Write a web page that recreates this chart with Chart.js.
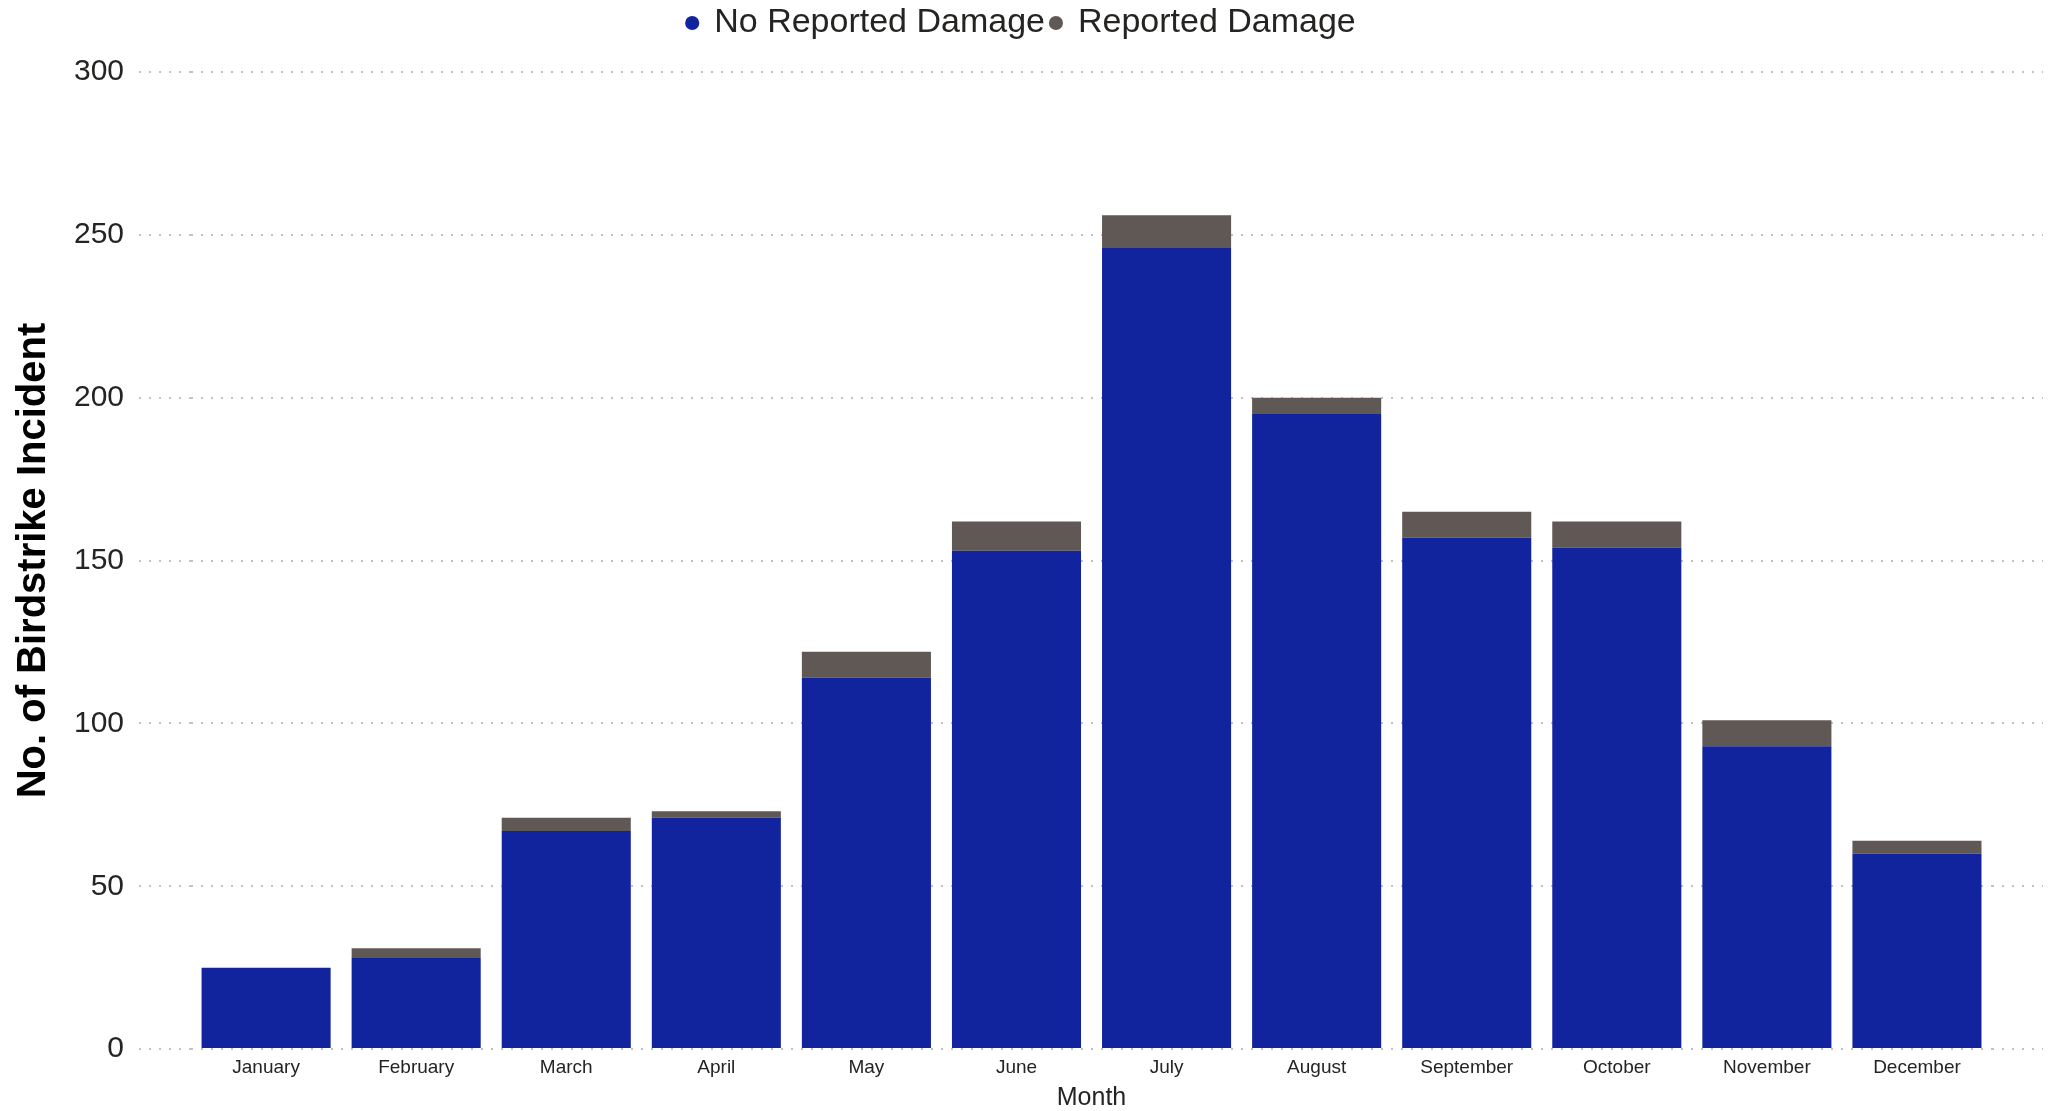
<!DOCTYPE html>
<html>
<head>
<meta charset="utf-8">
<script src="https://cdn.jsdelivr.net/npm/chart.js@4"></script>
<style>
    html, body { margin: 0; padding: 0; background: #ffffff; }
    #wrap { width: 2048px; height: 1111px; }
</style>
</head>
<body>
<div id="wrap"><canvas id="barChart"></canvas></div>
<script>
// Mēneši un incidentu skaits
const months = ['January', 'February', 'March', 'April', 'May', 'June', 'July', 'August', 'September', 'October', 'November', 'December'];
const noDamage = [25, 28, 67, 71, 114, 153, 246, 195, 157, 154, 93, 60];
const damage = [0, 3, 4, 2, 8, 9, 10, 5, 8, 8, 8, 4];
const yTicks = [0, 50, 100, 150, 200, 250, 300];

const gridDots = {
    color: '#c4c2c0',
    lineWidth: 2,
    tickColor: '#c4c2c0',
    tickWidth: 2,
    tickBorderDash: [2, 8]
};

// Papildu atstarpe zem leģendas
const legendGap = {
    id: 'legendGap',
    beforeInit(chart) {
        const fit = chart.legend.fit;
        chart.legend.fit = function () {
            fit.bind(chart.legend)();
            this.height += 22;
        };
    }
};

const ctx = document.getElementById('barChart').getContext('2d');
new Chart(ctx, {
    type: 'bar',
    data: {
        labels: months,
        datasets: [
            {
                label: 'No Reported Damage',
                data: noDamage,
                backgroundColor: '#12239E',
                borderWidth: 0
            },
            {
                label: 'Reported Damage',
                data: damage,
                backgroundColor: '#605855',
                borderWidth: 0
            }
        ]
    },
    plugins: [legendGap],
    options: {
        responsive: true,
        maintainAspectRatio: false,
        animation: false,
        layout: {
            padding: { left: 0, right: 5, top: 0, bottom: 0 }
        },
        datasets: {
            bar: { barPercentage: 0.86, categoryPercentage: 1.0 }
        },
        plugins: {
            legend: {
                position: 'top',
                labels: {
                    usePointStyle: true,
                    pointStyle: 'circle',
                    boxWidth: 10,
                    boxHeight: 10,
                    padding: 6,
                    color: '#252423',
                    font: { family: 'Liberation Sans, Arial, sans-serif', size: 34 }
                }
            },
            tooltip: { enabled: false }
        },
        scales: {
            x: {
                stacked: true,
                grid: { display: false, drawTicks: false },
                border: { display: false },
                ticks: {
                    padding: 8,
                    color: '#252423',
                    font: { family: 'Liberation Sans, Arial, sans-serif', size: 19, lineHeight: 1.1 }
                },
                title: {
                    display: true,
                    text: 'Month',
                    color: '#252423',
                    padding: { top: 0, bottom: 0 },
                    font: { family: 'Liberation Sans, Arial, sans-serif', size: 25, lineHeight: 1.0 }
                }
            },
            y: {
                stacked: true,
                min: 0,
                max: 300,
                afterBuildTicks: (scale) => {
                    scale.ticks = yTicks.map(v => ({ value: v }));
                },
                grid: Object.assign({ tickLength: 52 }, gridDots),
                border: { display: false, dash: [2, 8] },
                ticks: {
                    padding: 15,
                    color: '#252423',
                    font: { family: 'Liberation Sans, Arial, sans-serif', size: 30 }
                },
                title: {
                    display: true,
                    text: 'No. of Birdstrike Incident',
                    color: '#000000',
                    padding: { top: 10, bottom: 1 },
                    font: { family: 'Liberation Sans, Arial, sans-serif', size: 40, weight: 'bold' }
                }
            },
            // labā puse - tikai punktotās līnijas turpinājums
            y2: {
                position: 'right',
                min: 0,
                max: 300,
                afterBuildTicks: (scale) => {
                    scale.ticks = yTicks.map(v => ({ value: v }));
                },
                grid: Object.assign({ tickLength: 51, drawOnChartArea: false }, gridDots),
                border: { display: false, dash: [2, 8] },
                ticks: { display: false }
            }
        }
    }
});
</script>
</body>
</html>
